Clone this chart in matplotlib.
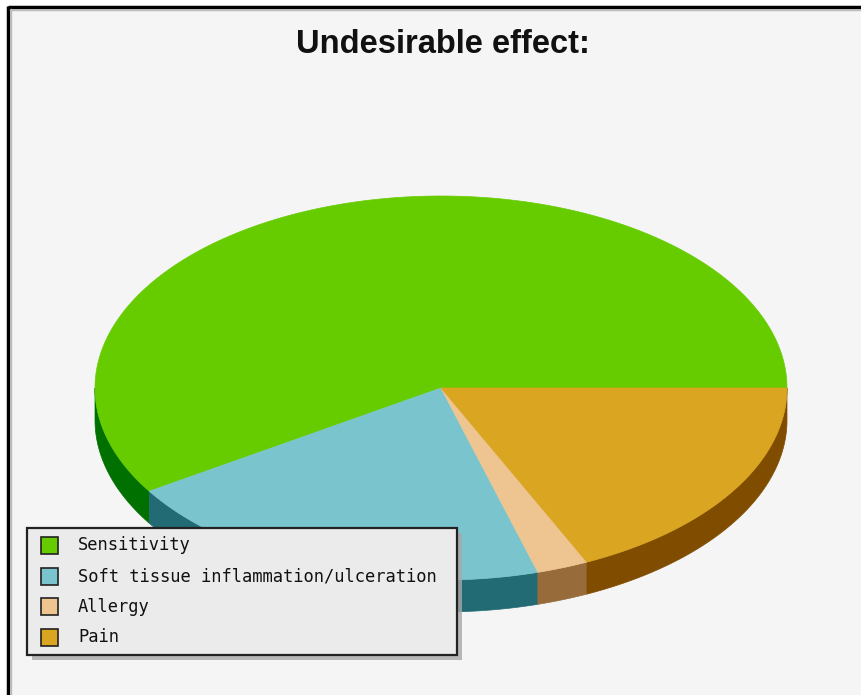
import numpy as np
import matplotlib
matplotlib.use("Agg")
import matplotlib.pyplot as plt
from matplotlib.patches import Polygon, Rectangle

# ---- data ----
categories = ["Sensitivity", "Soft tissue inflammation/ulceration", "Allergy", "Pain"]
values = [49, 17, 2, 15]
top_colors = ["#66CC00", "#7AC5CD", "#EEC591", "#DAA520"]
side_colors = ["#007000", "#236B74", "#976B3A", "#7F4C00"]
title = "Undesirable effect:"

W, H = 861, 695
fig = plt.figure(figsize=(W / 100, H / 100), dpi=100)
fig.patch.set_facecolor("white")
ax = fig.add_axes([0, 0, 1, 1])
ax.set_xlim(0, W)
ax.set_ylim(H, 0)
ax.axis("off")

# background and frame
ax.add_patch(Rectangle((8, 7), W, H, facecolor="#F5F5F5", edgecolor="none", zorder=0))
ax.plot([8, W], [7, 7], color="black", lw=2.5, zorder=1, solid_capstyle="butt")
ax.plot([8, 8], [6, H], color="black", lw=2.5, zorder=1, solid_capstyle="butt")
ax.plot([10, W], [9.5, 9.5], color="#BBBBBB", lw=1, zorder=1)
ax.plot([10.5, 10.5], [9, H], color="#BBBBBB", lw=1, zorder=1)

ax.text(443, 53, title, ha="center", va="baseline", fontsize=23.5,
        fontweight="bold", family="Liberation Sans", color="#111111", zorder=5)

# 3D pie geometry
cx, cy, rx, ry, depth = 441, 388, 346, 192, 32
total = float(sum(values))
angles = np.concatenate([[0], np.cumsum(values) / total * 360.0])


def pt(t_deg, dy=0.0):
    t = np.radians(t_deg)
    return cx + rx * np.cos(t), cy - ry * np.sin(t) + dy


# sides (only front half, angles 180..360)
for i in range(len(values)):
    a1, a2 = angles[i], angles[i + 1]
    s1, s2 = max(a1, 180.0), min(a2, 360.0)
    if s2 <= s1:
        continue
    ts = np.linspace(s1, s2, 200)
    xs, ys = pt(ts)
    xb, yb = pt(ts[::-1], depth)
    poly = np.column_stack([np.concatenate([xs, xb]), np.concatenate([ys, yb])])
    ax.add_patch(Polygon(poly, closed=True, facecolor=side_colors[i],
                         edgecolor=side_colors[i], lw=0.5, zorder=2))

# tops
for i in range(len(values)):
    a1, a2 = angles[i], angles[i + 1]
    ts = np.linspace(a1, a2, 400)
    xs, ys = pt(ts)
    poly = np.column_stack([np.concatenate([[cx], xs]), np.concatenate([[cy], ys])])
    ax.add_patch(Polygon(poly, closed=True, facecolor=top_colors[i],
                         edgecolor=top_colors[i], lw=0.5, zorder=3))

# legend
lx0, ly0, lx1, ly1 = 27, 528, 457, 655
ax.add_patch(Rectangle((lx0 + 5, ly0 + 5), lx1 - lx0, ly1 - ly0,
                       facecolor="#A8A8A8", edgecolor="none", zorder=6, alpha=0.8))
ax.add_patch(Rectangle((lx0, ly0), lx1 - lx0, ly1 - ly0,
                       facecolor="#EBEBEB", edgecolor="#222222", lw=1.6, zorder=7))
row_y = [545, 576, 606, 637]
for i, lab in enumerate(categories):
    ax.add_patch(Rectangle((41, row_y[i] - 8), 17, 17, facecolor=top_colors[i],
                           edgecolor="#222222", lw=1.2, zorder=8))
    ax.text(78, row_y[i] + 0.5, lab, ha="left", va="center", fontsize=12.35,
            family="DejaVu Sans Mono", color="#111111", zorder=8)

fig.savefig("out.png", dpi=100, facecolor=fig.get_facecolor())
